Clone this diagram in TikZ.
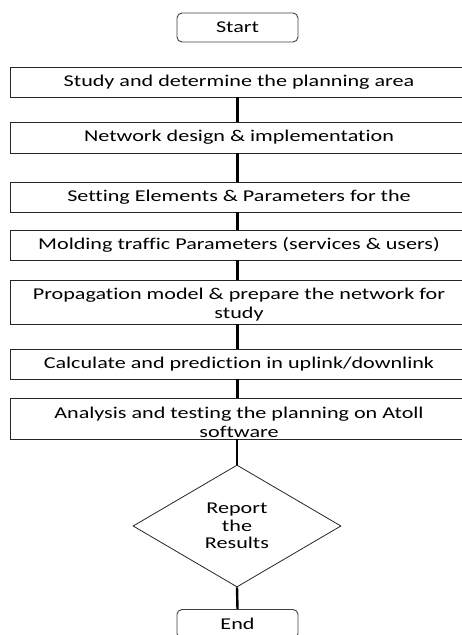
\documentclass[tikz,border=0pt]{standalone}
\usepackage{fontspec}
\setmainfont{Carlito}[FakeStretch=1.34,Ligatures=NoCommon]
\usetikzlibrary{shapes.geometric}
\begin{document}
\begin{tikzpicture}[x=1pt,y=-1pt,
  tfont/.style={font=\fontsize{16.5}{19}\selectfont},
  box/.style={draw=black!85, line width=0.9pt, rectangle, minimum width=458pt, inner sep=0pt, tfont},
  term/.style={draw=black!75, line width=0.9pt, rounded corners=5pt, minimum width=121pt, minimum height=29pt, inner sep=0pt, tfont},
  txt/.style={inner sep=0pt, anchor=base, tfont},
  dia/.style={draw=black!85, line width=0.8pt, diamond, minimum width=208pt, minimum height=122pt, inner sep=0pt, align=center, font=\fontsize{16.5}{17.5}\selectfont},
  conn/.style={line width=2.4pt}]
\useasboundingbox (0,0) rectangle (462,635);
\node[term] (start) at (237.5,27.5) {Start};
\node[box, minimum height=30pt] (b1) at (239,82) {Study and determine the planning area};
\node[box, minimum height=31pt] (b2) at (239,137.5) {Network design \& implementation};
\node[box, minimum height=30pt] (b3) at (239,197) {Setting Elements \& Parameters for the};
\node[box, minimum height=30pt] (b4) at (239,245) {Molding traffic Parameters (services \& users)};
\node[box, minimum height=44pt] (b5) at (239,302) {};
\node[txt] (t5a) at (239,299) {Propagation model \& prepare the network for};
\node[txt] (t5b) at (239,318) {study};
\node[box, minimum height=30pt] (b6) at (239,364) {Calculate and prediction in uplink/downlink};
\node[box, minimum height=41pt] (b7) at (239,418.5) {};
\node[txt] (t7a) at (239,418) {Analysis and testing the planning on Atoll};
\node[txt] (t7b) at (239,437) {software};
\node[dia] (d) at (237,526) {Report\\the\\Results};
\node[term] (end) at (237.5,624) {End};
\draw[conn] (b1.south -| start.south) -- (b2.north -| start.south);
\draw[conn] (b2.south -| start.south) -- (b3.north -| start.south);
\draw[conn] (b3.south -| start.south) -- (b4.north -| start.south);
\draw[conn] (b4.south -| start.south) -- (b5.north -| start.south);
\draw[conn] (b5.south -| start.south) -- (b6.north -| start.south);
\draw[conn] (b6.south -| start.south) -- (b7.north -| start.south);
\draw[conn] (b7.south -| d.north) -- (d.north);
\draw[conn] (d.south) -- (end.north);
\end{tikzpicture}
\end{document}
